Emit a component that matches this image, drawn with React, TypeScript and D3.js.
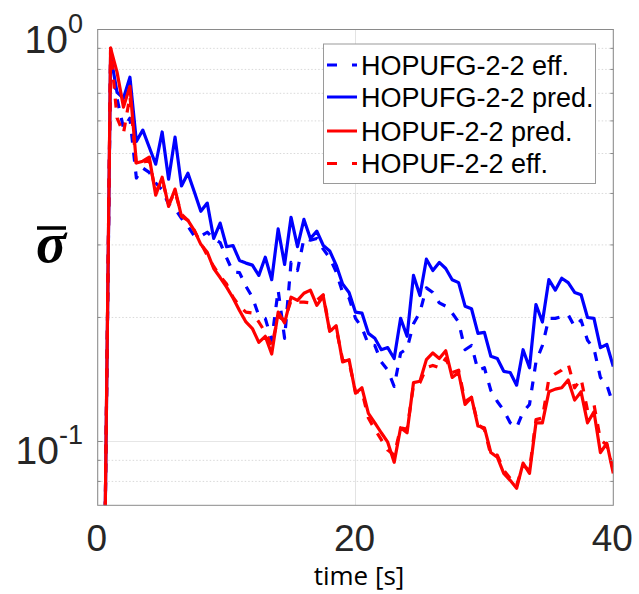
import React from 'react';
import * as d3 from 'd3';

// sampling times [s]
const time: number[] = d3.range(1, 81).map((i) => i * 0.5);

const hopufgEff = [
  0.04, 0.852, 0.68, 0.576, 0.609, 0.436, 0.461, 0.45, 0.424, 0.408,
  0.377, 0.367, 0.348, 0.333, 0.315, 0.315, 0.322, 0.311, 0.304, 0.279,
  0.258, 0.257, 0.238, 0.224, 0.202, 0.199, 0.176, 0.233, 0.178, 0.272,
  0.26, 0.311, 0.308, 0.311, 0.293, 0.279, 0.258, 0.23, 0.223, 0.199,
  0.189, 0.172, 0.171, 0.156, 0.149, 0.136, 0.164, 0.168, 0.193, 0.206,
  0.236, 0.23, 0.217, 0.213, 0.205, 0.195, 0.167, 0.171, 0.149, 0.151,
  0.133, 0.125, 0.119, 0.111, 0.108, 0.118, 0.123, 0.156, 0.171, 0.199,
  0.199, 0.201, 0.203, 0.19, 0.197, 0.176, 0.168, 0.143, 0.137, 0.123,
];

const hopufgPred = [
  0.04, 0.866, 0.704, 0.681, 0.766, 0.535, 0.57, 0.518, 0.471, 0.564,
  0.433, 0.548, 0.417, 0.448, 0.403, 0.362, 0.379, 0.311, 0.339, 0.297,
  0.299, 0.275, 0.271, 0.268, 0.253, 0.28, 0.247, 0.328, 0.269, 0.35,
  0.297, 0.346, 0.311, 0.324, 0.299, 0.29, 0.268, 0.241, 0.23, 0.206,
  0.205, 0.183, 0.178, 0.167, 0.169, 0.159, 0.199, 0.18, 0.253, 0.226,
  0.277, 0.26, 0.272, 0.263, 0.247, 0.243, 0.213, 0.21, 0.183, 0.184,
  0.161, 0.159, 0.148, 0.147, 0.137, 0.167, 0.151, 0.215, 0.195, 0.247,
  0.233, 0.249, 0.243, 0.23, 0.227, 0.2, 0.199, 0.169, 0.172, 0.152,
];

const hopufPred = [
  0.04, 0.901, 0.788, 0.648, 0.728, 0.474, 0.479, 0.49, 0.396, 0.438,
  0.372, 0.41, 0.352, 0.344, 0.325, 0.301, 0.288, 0.263, 0.25, 0.237,
  0.223, 0.208, 0.195, 0.188, 0.174, 0.18, 0.163, 0.206, 0.194, 0.224,
  0.22, 0.229, 0.233, 0.214, 0.225, 0.185, 0.191, 0.156, 0.158, 0.131,
  0.135, 0.117, 0.111, 0.105, 0.0996, 0.089, 0.108, 0.105, 0.139, 0.14,
  0.158, 0.164, 0.159, 0.166, 0.143, 0.147, 0.123, 0.128, 0.109, 0.108,
  0.094, 0.0916, 0.0837, 0.0805, 0.077, 0.0886, 0.0837, 0.111, 0.111, 0.132,
  0.134, 0.135, 0.141, 0.126, 0.132, 0.111, 0.118, 0.094, 0.099, 0.0837,
];

const hopufEff = [
  0.04, 0.901, 0.61, 0.56, 0.69, 0.468, 0.476, 0.482, 0.403, 0.431,
  0.377, 0.403, 0.356, 0.344, 0.325, 0.303, 0.283, 0.266, 0.252, 0.241,
  0.224, 0.213, 0.206, 0.205, 0.195, 0.184, 0.171, 0.201, 0.197, 0.22,
  0.218, 0.218, 0.217, 0.22, 0.227, 0.186, 0.188, 0.158, 0.156, 0.132,
  0.132, 0.114, 0.107, 0.101, 0.0953, 0.0927, 0.108, 0.107, 0.137, 0.139,
  0.151, 0.153, 0.151, 0.159, 0.147, 0.149, 0.125, 0.128, 0.11, 0.107,
  0.0927, 0.0927, 0.0852, 0.0814, 0.0783, 0.0876, 0.0852, 0.113, 0.114, 0.142,
  0.146, 0.149, 0.154, 0.135, 0.142, 0.119, 0.123, 0.101, 0.098, 0.0852,
];

const seriesNames = ['HOPUFG-2-2 eff.', 'HOPUFG-2-2 pred.', 'HOPUF-2-2 pred.', 'HOPUF-2-2 eff.'];
const xTicks = [0, 20, 40];
const yMajorTicks = [1, 0.1];
const yMajorExponents = ['0', '-1'];
const yMinorTicks = [0.08, 0.09, 0.2, 0.3, 0.4, 0.5, 0.6, 0.7, 0.8, 0.9];

const W = 639;
const H = 594;
const L = 97.7;
const R = 613.3;
const T = 29.5;
const B = 505.3;

export default function App() {
  const x = d3.scaleLinear().domain([0, 40]).range([L, R]);
  const y = d3.scaleLog().domain([0.07, 1]).range([B, T]);
  const mkLine = (vals: number[]) =>
    d3
      .line<number>()
      .x((_, i) => x(time[i]))
      .y((d) => y(d))(vals) as string;

  const series = [
    { name: seriesNames[0], values: hopufgEff, color: '#0000ff', dash: '9,10' },
    { name: seriesNames[1], values: hopufgPred, color: '#0000ff', dash: '' },
    { name: seriesNames[2], values: hopufPred, color: '#ff0000', dash: '' },
    { name: seriesNames[3], values: hopufEff, color: '#ff0000', dash: '9,10' },
  ];

  const tickFont = '"Liberation Sans", Arial, Helvetica, sans-serif';
  const legY = [65, 97, 131, 163.5];

  return (
    <svg
      width={W}
      height={H}
      style={{ position: 'absolute', left: 0, top: 0, background: '#ffffff' }}
    >
      <defs>
        <clipPath id="plotClip">
          <rect x={L} y={T} width={R - L} height={B - T} />
        </clipPath>
      </defs>
      <rect x={0} y={0} width={W} height={H} fill="#ffffff" />
      <rect x={L} y={T} width={R - L} height={B - T} fill="#ffffff" />

      {/* grid */}
      {yMinorTicks.map((t) => (
        <line
          key={'gm' + t}
          x1={L}
          x2={R}
          y1={y(t)}
          y2={y(t)}
          stroke="#d9d9d9"
          strokeWidth={1}
          strokeDasharray="1.5,2"
        />
      ))}
      {yMajorTicks.map((t) => (
        <line key={'gM' + t} x1={L} x2={R} y1={y(t)} y2={y(t)} stroke="#e6e6e6" strokeWidth={1.2} />
      ))}
      {xTicks.map((t) => (
        <line key={'gx' + t} x1={x(t)} x2={x(t)} y1={T} y2={B} stroke="#e3e3e3" strokeWidth={1} />
      ))}

      {/* series */}
      <g clipPath="url(#plotClip)">
        {series.map((s) => (
          <path
            key={s.name}
            d={mkLine(s.values)}
            fill="none"
            stroke={s.color}
            strokeWidth={3.2}
            strokeDasharray={s.dash || undefined}
            strokeLinejoin="round"
          />
        ))}
      </g>

      {/* axes box */}
      <rect x={L} y={T} width={R - L} height={B - T} fill="none" stroke="#8a8a8a" strokeWidth={1} />
      {yMinorTicks.map((t) => (
        <g key={'tk' + t}>
          <line x1={L} x2={L + 3} y1={y(t)} y2={y(t)} stroke="#8a8a8a" />
          <line x1={R - 3} x2={R} y1={y(t)} y2={y(t)} stroke="#8a8a8a" />
        </g>
      ))}
      {yMajorTicks.map((t) => (
        <g key={'tM' + t}>
          <line x1={L} x2={L + 5} y1={y(t)} y2={y(t)} stroke="#8a8a8a" />
          <line x1={R - 5} x2={R} y1={y(t)} y2={y(t)} stroke="#8a8a8a" />
        </g>
      ))}

      {/* y tick labels */}
      {yMajorTicks.map((t, i) => (
        <text
          key={'yl' + t}
          x={83}
          y={y(t) + 23}
          textAnchor="end"
          fill="#262626"
          fontFamily={tickFont}
        >
          <tspan fontSize={39}>10</tspan>
          <tspan fontSize={27} dy={-20}>
            {yMajorExponents[i]}
          </tspan>
        </text>
      ))}

      {/* x tick labels */}
      {xTicks.map((t) => (
        <text
          key={'xl' + t}
          x={x(t) - 1}
          y={551}
          textAnchor="middle"
          fontSize={37}
          fill="#262626"
          fontFamily={tickFont}
        >
          {t}
        </text>
      ))}

      {/* axis labels */}
      <text
        x={359}
        y={585}
        textAnchor="middle"
        fontSize={26}
        fill="#000000"
        fontFamily='"Open Sans", "Noto Sans", sans-serif'
      >
        time [s]
      </text>
      <text
        x={51}
        y={262}
        textAnchor="middle"
        fontSize={56}
        fontWeight="bold"
        fontStyle="italic"
        fill="#000000"
        fontFamily='"Liberation Serif", "DejaVu Serif", serif'
      >
        σ
      </text>
      <line x1={37} x2={66} y1={228} y2={228} stroke="#000000" strokeWidth={3.5} />

      {/* legend */}
      <rect x={323.5} y={44} width={272} height={139.5} fill="#ffffff" stroke="#9a9a9a" strokeWidth={1} />
      {series.map((s, i) => (
        <g key={'lg' + s.name}>
          <line
            x1={327}
            x2={357}
            y1={legY[i]}
            y2={legY[i]}
            stroke={s.color}
            strokeWidth={3}
            strokeDasharray={s.dash ? '10,15' : undefined}
          />
          <text
            x={361}
            y={legY[i] + 9.5}
            fontSize={27}
            fill="#000000"
            fontFamily={tickFont}
          >
            {s.name}
          </text>
        </g>
      ))}
    </svg>
  );
}
